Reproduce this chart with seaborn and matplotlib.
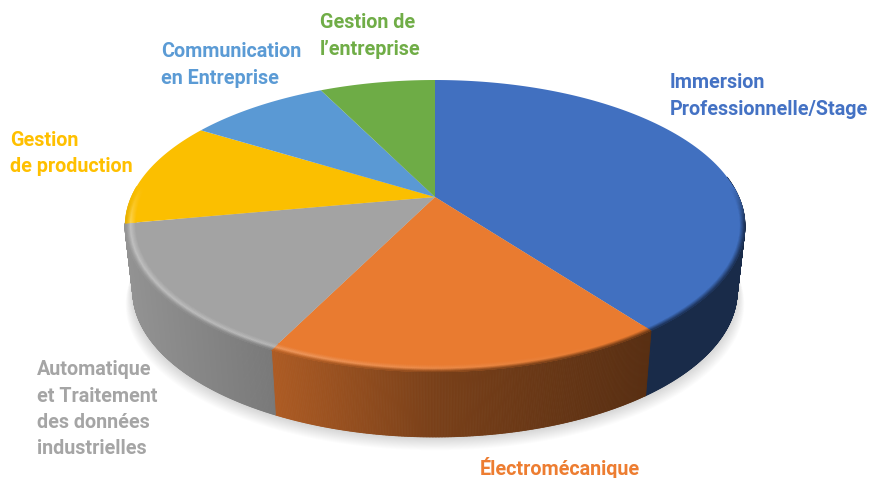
import numpy as np
import seaborn as sns
import matplotlib.pyplot as plt
from matplotlib.collections import PolyCollection

# Share of each slice, clockwise from 12 o'clock
categories = ["Immersion Professionnelle/Stage", "Électromécanique",
              "Automatique et Traitement des données industrielles",
              "Gestion de production", "Communication en Entreprise",
              "Gestion de l’entreprise"]
shares = [39.8, 17.5, 14.8, 11.7, 8.9, 7.3]
colors = ["#4170c0", "#e97b30", "#a3a3a3", "#fbbf00", "#5a99d4", "#6eac46"]
label_colors = ["#4472c4", "#ed7d31", "#a5a5a5", "#ffc000", "#5b9bd5", "#70ad47"]
label_lines = [["Immersion", "Professionnelle/Stage"], ["Électromécanique"],
               ["Automatique", "et Traitement", "des données", "industrielles"],
               ["Gestion", "de production"], ["Communication", "en Entreprise"],
               ["Gestion de", "l’entreprise"]]
label_pos = [(670, 88), (480, 475), (37, 375), (10, 146), (161, 57), (320, 28)]

sns.set_theme(style="white")
plt.rcParams["font.family"] = ["Roboto", "DejaVu Sans"]
palette = sns.color_palette(colors)


# disc coordinates -> pixels, with a bit of perspective
def project(theta, r=1.0, z=0.0):
    u, v = r * np.sin(theta), r * np.cos(theta)
    w = 1 + 0.1986 * v
    x = 303.8 * u / w
    y = (197 - 101.1 * v) / w
    return 435 + x * (1 - 0.025 * z), y + 65 * z


def side_shade(x):
    return np.interp(x, [125, 275, 435, 650, 745], [0.9, 0.74, 0.52, 0.38, 0.38])


fig, ax = plt.subplots(figsize=(8.69, 4.78), dpi=100)
fig.subplots_adjust(0, 0, 1, 1)
ax.set_xlim(0, 869)
ax.set_ylim(478, 0)
ax.axis("off")

# soft shadow under the pie
t = np.linspace(0, 2 * np.pi, 240)
for k in range(14):
    sx, sy = project(t, 1.0, 1.0)
    ax.fill(435 + (sx - 435) * (1 + k * 0.0018), sy + 1 + k * 0.95,
            color="#000000", alpha=0.012, lw=0, zorder=1)

edges = np.radians(np.cumsum([0] + shares) * 3.6)

# side wall, which stops at the end of the grey slice
for i, col in enumerate(palette):
    th = np.arange(edges[i], edges[i + 1] + 0.004, 0.004)
    quads, fc = [], []
    for a, b in zip(th[:-1], th[1:]):
        if np.cos(a) > 0.15 or a >= edges[3]:
            continue
        x0, y0 = project(a)
        x1, y1 = project(b)
        x2, y2 = project(b, 1, 1)
        x3, y3 = project(a, 1, 1)
        quads.append([(x0, y0), (x1, y1), (x2, y2), (x3, y3)])
        fc.append(np.array(col) * side_shade(x0))
    if quads:
        ax.add_collection(PolyCollection(quads, facecolors=fc, edgecolors="face",
                                         linewidths=0.6, zorder=2))

# top face
for i, col in enumerate(palette):
    th = np.linspace(edges[i], edges[i + 1], 120)
    x, y = project(th)
    ax.fill(np.r_[435, x], np.r_[197, y], color=col, lw=0, zorder=3)

# bevel along the front rim
n_band = 14
for i, col in enumerate(palette):
    col = np.array(col)
    th = np.arange(edges[i], edges[i + 1] + 0.006, 0.006)
    quads, fc = [], []
    for a, b in zip(th[:-1], th[1:]):
        fade = np.clip(-np.cos(a) / 0.25 + 0.3, 0, 1)
        if fade == 0:
            continue
        x0, _ = project(a)
        dark = col * side_shade(x0)
        glow = 0.33 * max(0, 1 - (x0 - 125) / 500)
        for k in range(n_band):
            s0, s1 = k / n_band, (k + 1) / n_band
            r0, r1 = 0.965 + 0.035 * s0, 0.965 + 0.035 * s1
            if s0 < 0.5:
                c = col + (1 - col) * glow * (s0 / 0.5)
            else:
                c = col + (1 - col) * glow * (1 - (s0 - 0.5) / 0.5)
                c = c + (dark - c) * (s0 - 0.5) / 0.5
            c = col + (c - col) * fade
            quads.append([project(a, r0), project(b, r0), project(b, r1), project(a, r1)])
            fc.append(np.clip(c, 0, 1))
    if quads:
        ax.add_collection(PolyCollection(quads, facecolors=fc, edgecolors="face",
                                         linewidths=0.3, zorder=4))

# labels
for lines, (lx, ly), c in zip(label_lines, label_pos, label_colors):
    for j, line in enumerate(lines):
        ax.text(lx, ly + j * 26.5, line, color=c, fontsize=14.2, fontweight="bold",
                ha="left", va="baseline", zorder=6)

fig.savefig("out.png", dpi=100)
